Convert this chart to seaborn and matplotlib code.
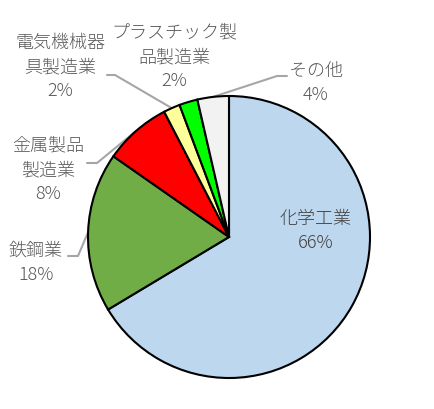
import numpy as np
import matplotlib
matplotlib.use('Agg')
import matplotlib.pyplot as plt
import seaborn as sns

# shares of each industry (clockwise from top)
industries = ['化学工業', '鉄鋼業', '金属製品\n製造業', '電気機械器\n具製造業', 'プラスチック製\n品製造業', 'その他']
shares = [66.4, 18.3, 7.7, 1.9, 2.1, 3.6]
colors = ['#BDD7EE', '#70AD47', '#FF0000', '#FFFF99', '#00FF00', '#F2F2F2']

sns.set_theme(style='white')
plt.rcParams['font.family'] = ['Noto Sans CJK JP', 'DejaVu Sans']

W, H = 435, 409
cx, cy, r = 229, 237, 141
fig = plt.figure(figsize=(W / 100, H / 100), dpi=100)
ax = fig.add_axes([(cx - r) / W, (H - cy - r) / H, 2 * r / W, 2 * r / H])

wedges, _ = ax.pie(shares, colors=colors, startangle=90, counterclock=False,
                   wedgeprops=dict(edgecolor='black', linewidth=1.5))
ax.set_xlim(-1, 1)
ax.set_ylim(-1, 1)
ax.axis('off')

def px(x, y):
    # pixel position -> data coords of the pie axes
    return (x - cx) / r, (cy - y) / r

# label centers (pixels) and leader line elbows
label_pos = [(316, 231), (36, 263), (48, 170), (60, 67), (174, 57), (316, 83)]
elbows = [None, [(68, 256), (78, 256)], [(87, 163), (97, 163)],
          [(107, 75), (115, 75)], None, [(287, 76), (277, 76)]]

for w, name, val, pos, elb in zip(wedges, industries, shares, label_pos, elbows):
    col = '#404040' if name == '化学工業' else '#595959'
    x, y = px(*pos)
    ax.text(x, y, f'{name}\n{val:.0f}%', ha='center', va='center', fontsize=13,
            color=col, linespacing=1.45, fontweight='light')
    if elb is not None:
        mid = np.deg2rad((w.theta1 + w.theta2) / 2)
        pts = [px(*p) for p in elb] + [(np.cos(mid), np.sin(mid))]
        ax.plot([p[0] for p in pts], [p[1] for p in pts], color='#A6A6A6',
                linewidth=1.5, clip_on=False, zorder=0)

plt.savefig('out.png', dpi=100)
